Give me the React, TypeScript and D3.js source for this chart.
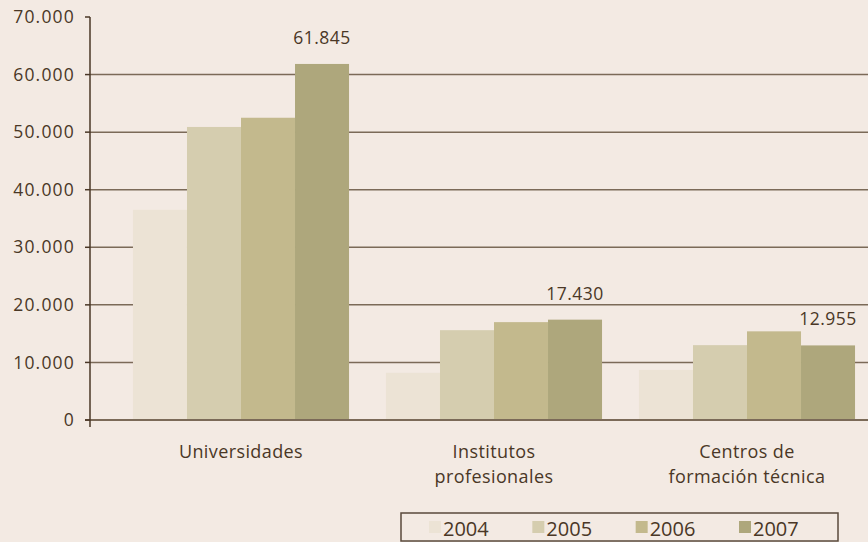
import * as d3 from 'd3';

// Matriculados por tipo de institución, 2004-2007
const categories = ['Universidades', 'Institutos profesionales', 'Centros de formación técnica'];
const categoryLines = [['Universidades'], ['Institutos', 'profesionales'], ['Centros de', 'formación técnica']];
const years = ['2004', '2005', '2006', '2007'];
const values2004 = [36500, 8200, 8700];
const values2005 = [50900, 15600, 13000];
const values2006 = [52500, 17000, 15400];
const values2007 = [61845, 17430, 12955];
const yTicks = [0, 10000, 20000, 30000, 40000, 50000, 60000, 70000];
const colors = ['#ece3d5', '#d5cdaf', '#c3b98d', '#aea77c'];

const W = 868;
const H = 542;
const BG = '#f3eae3';
const INK = '#4a3726';
const RULE = '#7b6a58';
const FONT = '"Open Sans", sans-serif';

const series = [values2004, values2005, values2006, values2007];
const fmt = (v: number) => d3.format(',')(v).replace(/,/g, '.');

export default function App() {
  const y = d3.scaleLinear().domain([0, 70000]).range([420, 17]);
  const x0 = d3.scaleBand<string>()
    .domain(categories)
    .range([114.5, 873.5])
    .paddingInner(0.146)
    .paddingOuter(0.073);
  const x1 = d3.scaleBand<string>().domain(years).range([0, x0.bandwidth()]);

  const axisX = 90;
  const legendX = d3.scalePoint<string>().domain(years).range([429, 739]);

  return (
    <svg width={W} height={H} style={{ position: 'absolute', left: 0, top: 0, background: BG }}>
      <rect width={W} height={H} fill={BG} />

      {/* rejilla */}
      {yTicks.filter((t) => t > 0 && t < 70000).map((t) => (
        <line key={t} x1={axisX} x2={W} y1={y(t)} y2={y(t)} stroke={RULE} strokeWidth={1.5} />
      ))}

      {/* barras */}
      {categories.map((c, i) => (
        <g key={c} transform={`translate(${x0(c)},0)`}>
          {years.map((yr, j) => (
            <rect
              key={yr}
              x={x1(yr)}
              y={y(series[j][i])}
              width={x1.bandwidth()}
              height={y(0) - y(series[j][i])}
              fill={colors[j]}
            />
          ))}
          <text
            x={(x1('2007') ?? 0) + x1.bandwidth() / 2}
            y={y(values2007[i]) - 20}
            textAnchor="middle"
            fontFamily={FONT}
            fontSize={17.5}
            letterSpacing={0.5}
            fill={INK}
          >
            {fmt(values2007[i])}
          </text>
        </g>
      ))}

      {/* eje y */}
      <line x1={axisX - 5} x2={W} y1={y(0)} y2={y(0)} stroke={RULE} strokeWidth={2} />
      <line x1={axisX} x2={axisX} y1={y(70000)} y2={y(0) + 7} stroke={INK} strokeWidth={1.5} />
      {yTicks.map((t) => (
        <g key={t}>
          <line x1={axisX - 5} x2={axisX} y1={y(t)} y2={y(t)} stroke={INK} strokeWidth={1.5} />
          <text
            x={75}
            y={y(t)}
            dy="0.35em"
            textAnchor="end"
            fontFamily={FONT}
            fontSize={17.5}
            letterSpacing={1.2}
            fill={INK}
          >
            {fmt(t)}
          </text>
        </g>
      ))}

      {/* categorías */}
      {categories.map((c, i) => (
        <text
          key={c}
          x={(x0(c) ?? 0) + x0.bandwidth() / 2}
          y={458}
          textAnchor="middle"
          fontFamily={FONT}
          fontSize={18}
          letterSpacing={0.4}
          fill={INK}
        >
          {categoryLines[i].map((ln, k) => (
            <tspan key={k} x={(x0(c) ?? 0) + x0.bandwidth() / 2} dy={k === 0 ? 0 : 25}>
              {ln}
            </tspan>
          ))}
        </text>
      ))}

      {/* leyenda */}
      <rect x={401} y={513} width={437} height={28} fill="none" stroke="#5a4a3c" strokeWidth={1.5} />
      {years.map((yr, j) => (
        <g key={yr} transform={`translate(${legendX(yr)},521)`}>
          <rect width={12} height={12} fill={colors[j]} />
          <text x={14} y={15} fontFamily={FONT} fontSize={20} fill={INK}>
            {yr}
          </text>
        </g>
      ))}
    </svg>
  );
}
